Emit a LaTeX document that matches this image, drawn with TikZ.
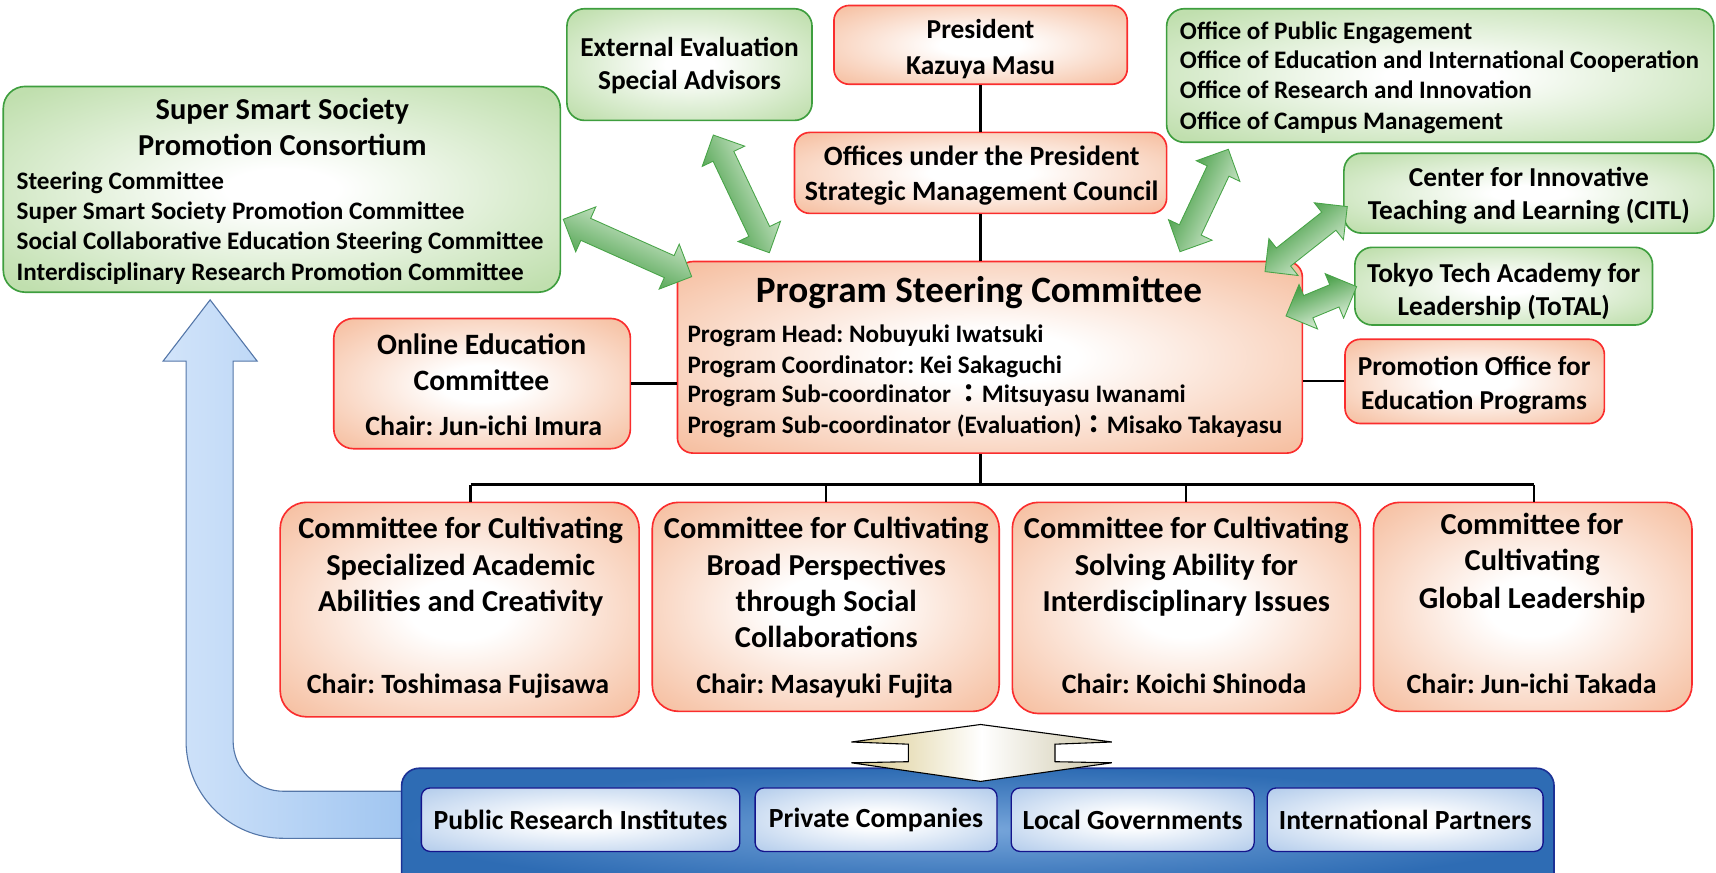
\documentclass[tikz,border=0pt]{standalone}
\usepackage{fontspec}
\setmainfont{Carlito}
\newfontfamily\cjkfont{Noto Sans CJK JP}
\usetikzlibrary{calc}
\frenchspacing
\definecolor{redB}{RGB}{250,45,45}
\definecolor{peach}{RGB}{246,192,162}
\definecolor{greenB}{RGB}{62,158,62}
\definecolor{greenF}{RGB}{192,223,174}
\definecolor{gdark}{RGB}{44,144,44}
\definecolor{gpale}{RGB}{238,248,235}
\definecolor{gline}{RGB}{72,164,72}
\definecolor{blueD}{RGB}{46,108,180}
\definecolor{blueM}{RGB}{118,165,218}
\definecolor{blueB}{RGB}{28,50,150}
\definecolor{navy}{RGB}{20,20,140}
\definecolor{blueL}{RGB}{182,206,236}
\definecolor{arrL}{RGB}{210,228,250}
\definecolor{arrR}{RGB}{158,196,240}
\definecolor{arrB}{RGB}{84,118,168}
\definecolor{tanL}{RGB}{216,200,138}
\definecolor{tanR}{RGB}{205,198,168}
\pgfdeclareradialshading{peachshade}{\pgfpoint{0bp}{0bp}}{color(0bp)=(white); color(7bp)=(white); color(34bp)=(peach); color(50bp)=(peach)}
\pgfdeclareradialshading{greenshade}{\pgfpoint{0bp}{0bp}}{color(0bp)=(white); color(5bp)=(white); color(33bp)=(greenF); color(50bp)=(greenF)}
\pgfdeclareradialshading{blueshade}{\pgfpoint{0bp}{0bp}}{color(0bp)=(white); color(6bp)=(white); color(34bp)=(blueL); color(50bp)=(blueL)}
\tikzset{
  redbox/.style={draw=redB, line width=1.5pt, rounded corners=14pt, shading=peachshade, inner sep=0pt},
  greenbox/.style={draw=greenB, line width=1.5pt, rounded corners=16pt, shading=greenshade, inner sep=0pt},
  combox/.style={redbox, rounded corners=24pt},
  bigblue/.style={draw=blueB, line width=1.5pt, rounded corners=16pt, inner color=blueM, outer color=blueD, inner sep=0pt},
  innerblue/.style={draw=navy, line width=1.2pt, rounded corners=8pt, shading=blueshade, inner sep=0pt, font=\bfseries\fontsize{25.3pt}{30pt}\selectfont},
  tx/.style={inner sep=0pt, anchor=base, font=\bfseries\fontsize{#1pt}{#1pt}\selectfont},
  conn/.style={line width=2pt, black},
  busline/.style={line width=3pt, black},
  garrowsty/.style={draw=gline, line width=0.8pt, left color=gpale, right color=gdark},
  elbow/.style={draw=arrB, line width=1pt, left color=arrL, right color=arrR},
  yarrow/.style={draw=black, line width=1pt, left color=tanL, right color=tanR, middle color=white}
}
\newcommand\garrowat[6]{%
  \pgfmathsetmacro\hL{#4/2}\pgfmathsetmacro\hW{#5/2}%
  \pgfmathsetmacro\hs{#6/2}\pgfmathsetmacro\hb{#4/2-#5/2}%
  \begin{scope}[shift={(#1,#2)},rotate=#3]
    \path[garrowsty, shading angle=#3] (-\hL,0) -- (-\hb,-\hW) -- (-\hb,-\hs) -- (\hb,-\hs) -- (\hb,-\hW) -- (\hL,0)
      -- (\hb,\hW) -- (\hb,\hs) -- (-\hb,\hs) -- (-\hb,\hW) -- cycle;
  \end{scope}}
\begin{document}
\begin{tikzpicture}[x=1pt,y=-1pt]
\useasboundingbox (0,0) rectangle (1568,797);

% ---------- big elbow arrow ----------
\path[elbow] (192,274) -- (235,330) -- (213,330) -- (213,677)
   arc[start angle=180,end angle=270,radius=46pt] -- (380,723) -- (380,766) -- (259,766)
   arc[start angle=270,end angle=180,radius=89pt] -- (170,330) -- (149,330) -- cycle;

% ---------- boxes ----------
\node[greenbox, minimum width=509pt, minimum height=188pt, rounded corners=20pt] (sss) at (257.5,173) {};
\node[greenbox, minimum width=224pt, minimum height=102pt] (ext) at (630,59) {};
\node[redbox, minimum width=268pt, minimum height=72pt] (pres) at (896,41) {};
\node[greenbox, minimum width=500pt, minimum height=122pt] (offg) at (1316,69) {};
\node[redbox, minimum width=340pt, minimum height=74pt] (offu) at (896,158) {};
\node[greenbox, minimum width=338pt, minimum height=73pt] (citl) at (1397,176.5) {};
\node[greenbox, minimum width=272pt, minimum height=71pt] (total) at (1374,261.5) {};
\node[redbox, minimum width=571pt, minimum height=175pt] (psc) at (904.5,326.5) {};
\node[redbox, minimum width=271pt, minimum height=119pt, rounded corners=18pt] (online) at (440.5,350.5) {};
\node[redbox, minimum width=237pt, minimum height=77pt] (promo) at (1347.5,348.5) {};
\node[combox, minimum width=328pt, minimum height=196pt] (c1) at (420,557) {};
\node[combox, minimum width=317pt, minimum height=191pt] (c2) at (754.5,554.5) {};
\node[combox, minimum width=318pt, minimum height=193pt] (c3) at (1084,555.5) {};
\node[combox, minimum width=291pt, minimum height=191pt] (c4) at (1400.5,554.5) {};

\node[bigblue, minimum width=1053pt, minimum height=112pt] (bluebox) at (893.5,758) {};
\node[innerblue, minimum width=291pt, minimum height=58pt] (pri) at (530.5,749) {Public Research Institutes};
\node[innerblue, minimum width=221pt, minimum height=58pt] (prc) at (800.5,749) {Private Companies};
\node[innerblue, minimum width=222pt, minimum height=58pt] (lgv) at (1035,749) {Local Governments};
\node[innerblue, minimum width=252pt, minimum height=58pt] (ipt) at (1284,749) {International Partners};

% ---------- connectors ----------
\coordinate (hub) at (896,443);
\coordinate (b1) at (430,443);
\coordinate (b2) at (755,443);
\coordinate (b3) at (1084,443);
\coordinate (b4) at (1402,443);
\draw[conn] (pres.south) -- (pres.south |- offu.north);
\draw[conn] (offu.south) -- (offu.south |- psc.north);
\draw[conn] (psc.south -| hub) -- (hub);
\draw[busline] (b1) -- (b4);
\draw[conn] (b1) -- (b1 |- c1.north);
\draw[conn] (b2) -- (b2 |- c2.north);
\draw[conn] (b3) -- (b3 |- c3.north);
\draw[conn] (b4) -- (b4 |- c4.north);
\draw[conn] (online.east) -- (online.east -| psc.west);
\draw[conn] (promo.west) -- (promo.west -| psc.east);

% ---------- yellow double arrow ----------
\path[yarrow] (896,662) -- (1016,678) -- (964,680) -- (964,696) -- (1016,697) -- (896,714)
   -- (778,697) -- (830,696) -- (830,680) -- (778,678) -- cycle;

% ---------- green double arrows ----------
\garrowat{573.35}{226.6}{-24.07}{128.5}{45}{22}
\garrowat{677.4}{177.15}{-64.53}{119.1}{43}{21}
\garrowat{1100.3}{183.2}{-115.28}{103.5}{44}{22}
\garrowat{1193.5}{218.5}{-141.7}{95.8}{43}{21}
\garrowat{1207.35}{275.3}{-157.44}{69.85}{44}{22}

% ---------- texts ----------
\node[tx=27.8] (sssA) at (258,109.5) {Super Smart Society};
\node[tx=27.8] (sssB) at (258,142.5) {Promotion Consortium};
\node[tx=23, anchor=base west] (sss1) at (15,173) {Steering Committee};
\node[tx=23, anchor=base west] (sss2) at (15,201) {Super Smart Society Promotion Committee};
\node[tx=23, anchor=base west] (sss3) at (15,228) {Social Collaborative Education Steering Committee};
\node[tx=23, anchor=base west] (sss4) at (15,256) {Interdisciplinary Research Promotion Committee};

\node[tx=25] (extA) at (630,52) {External Evaluation};
\node[tx=25] (extB) at (630,82) {Special Advisors};

\node[tx=25] (presA) at (896,35) {President};
\node[tx=25] (presB) at (896,68) {Kazuya Masu};

\node[tx=23, anchor=base west] (og1) at (1078,36) {Office of Public Engagement};
\node[tx=23, anchor=base west] (og2) at (1078,63) {Office of Education and International Cooperation};
\node[tx=23, anchor=base west] (og3) at (1078,90) {Office of Research and Innovation};
\node[tx=23, anchor=base west] (og4) at (1078,118) {Office of Campus Management};

\node[tx=25.5] (offuA) at (897,151) {Offices under the President};
\node[tx=25.5] (offuB) at (897,183) {Strategic Management Council};

\node[tx=25] (citlA) at (1397,170) {Center for Innovative};
\node[tx=25] (citlB) at (1397,201) {Teaching and Learning (CITL)};

\node[tx=25] (totA) at (1374,258) {Tokyo Tech Academy for};
\node[tx=25] (totB) at (1374,288) {Leadership (ToTAL)};

\node[tx=34] (pscT) at (894.5,276) {Program Steering Committee};
\node[tx=23, anchor=base west] (psc1) at (628,313) {Program Head: Nobuyuki Iwatsuki};
\node[tx=23, anchor=base west] (psc2) at (628,341) {Program Coordinator: Kei Sakaguchi};
\node[tx=23, anchor=base west] (psc3) at (628,368) {Program Sub-coordinator {\cjkfont ：}Mitsuyasu Iwanami};
\node[tx=23, anchor=base west] (psc4) at (628,396) {Program Sub-coordinator (Evaluation){\cjkfont ：}Misako Takayasu};

\node[tx=27] (onA) at (440,323.5) {Online Education};
\node[tx=27] (onB) at (440,356.5) {Committee};
\node[tx=25.5] (onC) at (442,398) {Chair: Jun-ichi Imura};

\node[tx=25] (prA) at (1347,343) {Promotion Office for};
\node[tx=25] (prB) at (1347,374) {Education Programs};

\node[tx=27.8] (c1a) at (421,491.6) {Committee for Cultivating};
\node[tx=27.8] (c1b) at (421,525.6) {Specialized Academic};
\node[tx=27.8] (c1c) at (421,558.6) {Abilities and Creativity};
\node[tx=25.5] (c1d) at (418.5,634) {Chair: Toshimasa Fujisawa};

\node[tx=27.8] (c2a) at (755,491.6) {Committee for Cultivating};
\node[tx=27.8] (c2b) at (755,525.6) {Broad Perspectives};
\node[tx=27.8] (c2c) at (755,558.6) {through Social};
\node[tx=27.8] (c2d) at (755,591.6) {Collaborations};
\node[tx=25.5] (c2e) at (753.5,634) {Chair: Masayuki Fujita};

\node[tx=27.8] (c3a) at (1084,491.6) {Committee for Cultivating};
\node[tx=27.8] (c3b) at (1084,525.6) {Solving Ability for};
\node[tx=27.8] (c3c) at (1084,558.6) {Interdisciplinary Issues};
\node[tx=25.5] (c3d) at (1082,634) {Chair: Koichi Shinoda};

\node[tx=27.8] (c4a) at (1400,488.6) {Committee for};
\node[tx=27.8] (c4b) at (1400,521.6) {Cultivating};
\node[tx=27.8] (c4c) at (1400,555.6) {Global Leadership};
\node[tx=25.5] (c4d) at (1399.5,634) {Chair: Jun-ichi Takada};
\end{tikzpicture}
\end{document}
